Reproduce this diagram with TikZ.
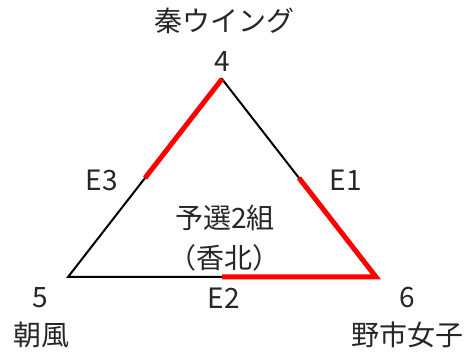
\documentclass[tikz,border=0pt]{standalone}
\usepackage{fontspec}
\usetikzlibrary{calc}
\setmainfont{Noto Sans CJK JP}
\tikzset{
  lbl/.style={inner sep=0pt, font=\fontsize{28}{32}\selectfont, text=black!85},
  edgeblack/.style={draw=black, line width=2pt},
  edgered/.style={draw=red, line width=5pt},
}
\begin{document}
\begin{tikzpicture}[x=1pt,y=1pt]
\useasboundingbox (0,0) rectangle (469,353);
\coordinate (A) at (222,274);
\coordinate (B) at (68,76);
\coordinate (C) at (376,76);
\coordinate (mAB) at ($(A)!0.5!(B)$);
\coordinate (mAC) at ($(A)!0.5!(C)$);
\coordinate (mBC) at ($(B)!0.5!(C)$);
\draw[edgeblack] (A) -- (B) -- (C) -- cycle;
\draw[edgered] (A) -- (mAB);
\draw[edgered, line join=miter] (mAC) -- (C) -- (mBC);
\node[lbl] (t4name) at (224,332) {秦ウイング};
\node[lbl] (n4) at (222,291) {4};
\node[lbl] (e3) at (102,173) {E3};
\node[lbl] (e1) at (346,173) {E1};
\node[lbl] (g1) at (225,135) {予選2組};
\node[lbl] (g2) at (224,95) {（香北）};
\node[lbl] (n5) at (40,55) {5};
\node[lbl] (e2) at (224,55) {E2};
\node[lbl] (n6) at (407,55) {6};
\node[lbl] (t5name) at (41,18) {朝風};
\node[lbl] (t6name) at (407,18) {野市女子};
\end{tikzpicture}
\end{document}
